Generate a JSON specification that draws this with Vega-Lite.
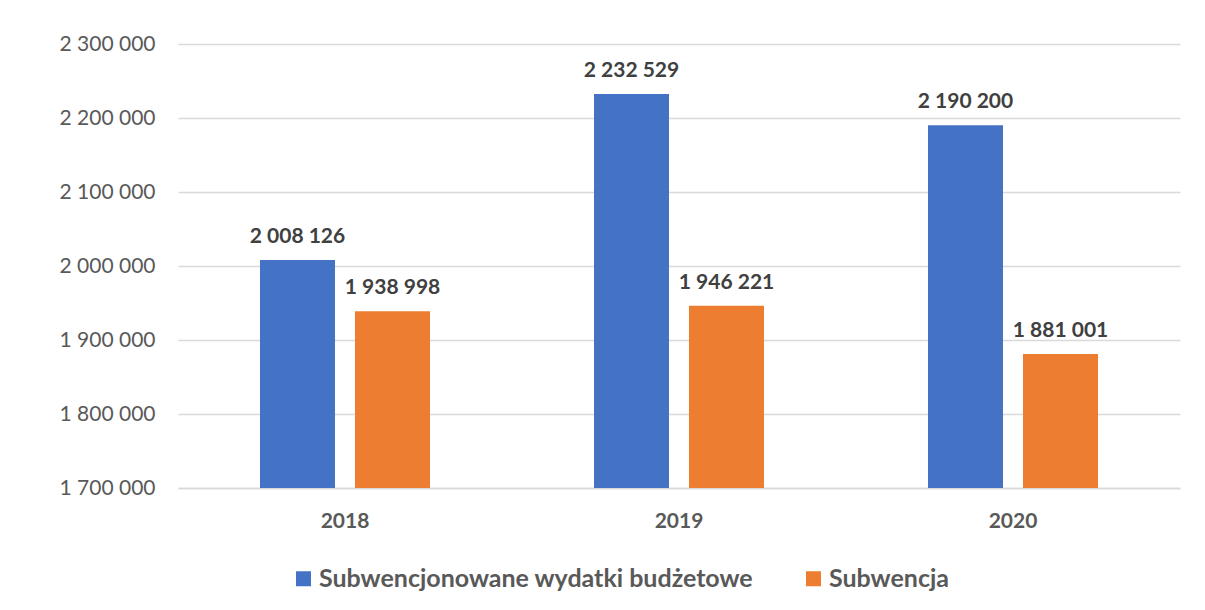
{
  "$schema": "https://vega.github.io/schema/vega-lite/v6.json",
  "width": 1002,
  "height": 444,
  "autosize": {"type": "none"},
  "padding": {"left": 178, "top": 44, "right": 25, "bottom": 122},
  "background": "white",
  "config": {
    "locale": {"number": {"decimal": ",", "thousands": " ", "grouping": [3], "currency": ["", " zł"]}},
    "view": {"stroke": null},
    "font": "Lato"
  },
  "data": {
    "values": [
      {"rok": "2018", "seria": "Subwencjonowane wydatki budżetowe", "wartosc": 2008126},
      {"rok": "2018", "seria": "Subwencja", "wartosc": 1938998},
      {"rok": "2019", "seria": "Subwencjonowane wydatki budżetowe", "wartosc": 2232529},
      {"rok": "2019", "seria": "Subwencja", "wartosc": 1946221},
      {"rok": "2020", "seria": "Subwencjonowane wydatki budżetowe", "wartosc": 2190200},
      {"rok": "2020", "seria": "Subwencja", "wartosc": 1881001}
    ]
  },
  "encoding": {
    "x": {
      "field": "rok", "type": "nominal", "title": null,
      "scale": {"paddingInner": 0, "paddingOuter": 0},
      "axis": {
        "labelAngle": 0, "ticks": false, "domainColor": "#d9d9d9", "domainWidth": 1.5,
        "labelFont": "Lato", "labelFontSize": 21, "labelFontWeight": "bold",
        "labelColor": "#595959", "labelPadding": 22, "grid": false
      }
    },
    "xOffset": {
      "field": "seria", "type": "nominal",
      "sort": ["Subwencjonowane wydatki budżetowe", "Subwencja"],
      "scale": {"paddingInner": 0.2105, "paddingOuter": 0.863}
    },
    "y": {
      "field": "wartosc", "type": "quantitative", "title": null,
      "scale": {"domain": [1700000, 2300000], "zero": false, "nice": false},
      "axis": {
        "values": [1700000, 1800000, 1900000, 2000000, 2100000, 2200000, 2300000],
        "format": ",d", "domain": false, "ticks": false, "labelPadding": 23,
        "labelFont": "Lato", "labelFontSize": 21, "labelColor": "#595959",
        "gridColor": "#d9d9d9", "gridWidth": 1.5
      }
    }
  },
  "layer": [
    {
      "mark": {"type": "bar"},
      "encoding": {
        "y2": {"datum": 1700000},
        "color": {
          "field": "seria", "type": "nominal",
          "sort": ["Subwencjonowane wydatki budżetowe", "Subwencja"],
          "scale": {"domain": ["Subwencjonowane wydatki budżetowe", "Subwencja"], "range": ["#4472C4", "#ED7D31"]},
          "legend": {
            "title": null, "orient": "none", "direction": "horizontal",
            "legendX": 113, "legendY": 522, "padding": 0,
            "symbolType": "square", "symbolSize": 225, "symbolStrokeWidth": 0,
            "labelFont": "Lato", "labelFontSize": 25, "labelFontWeight": "bold",
            "labelColor": "#595959", "labelOffset": 3, "columnPadding": 47,
            "labelLimit": 700
          }
        }
      }
    },
    {
      "mark": {"type": "text", "dy": -17, "baseline": "alphabetic", "font": "Lato", "fontSize": 21, "fontWeight": "bold", "color": "#404040"},
      "encoding": {
        "text": {"field": "wartosc", "type": "quantitative", "format": ",d"}
      }
    }
  ]
}
